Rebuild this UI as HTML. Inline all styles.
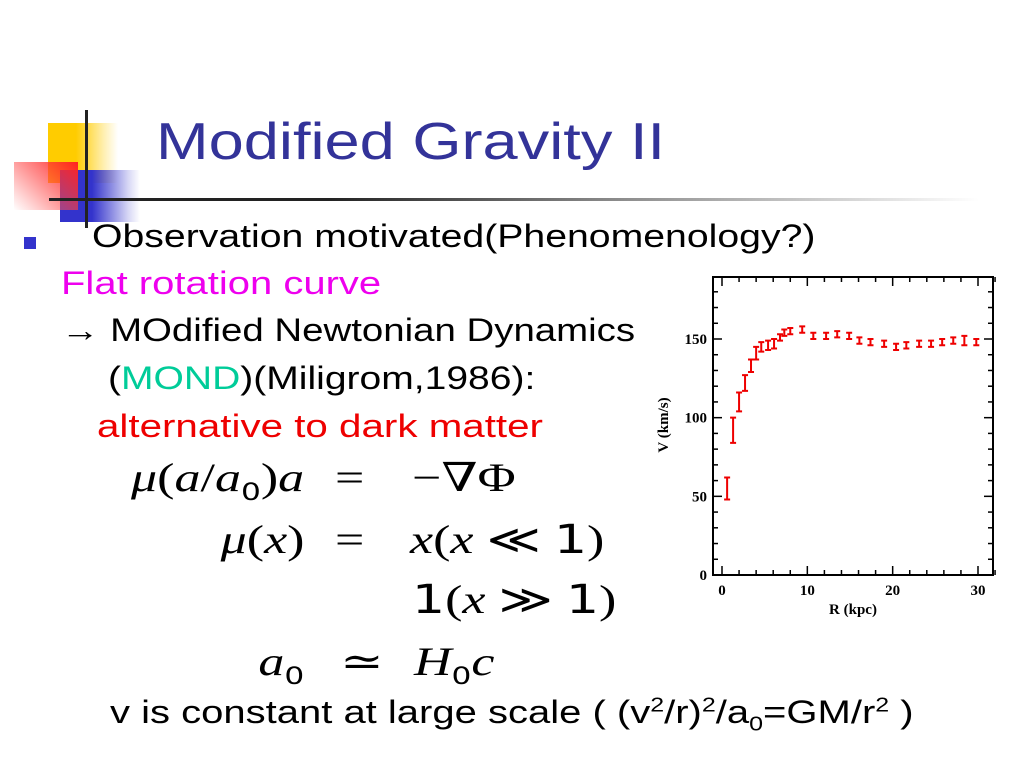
<!DOCTYPE html>
<html><head><meta charset="utf-8">
<style>
body{margin:0;width:1024px;height:768px;background:#fff;position:relative;overflow:hidden;font-family:"Liberation Sans","DejaVu Sans",sans-serif}
.abs{position:absolute;white-space:nowrap}
.sx{transform-origin:0 0}
.m{font-family:"Liberation Serif","DejaVu Serif",serif;font-size:40px;color:#000}
.ml{transform:scaleX(1.3);transform-origin:100% 0}
.mr{transform:scaleX(1.3);transform-origin:0 0}
.i{font-style:italic}
.s{font-family:"DejaVu Sans","Liberation Sans",sans-serif;font-style:normal}
</style></head><body>
<div>
<div class="abs" style="left:48px;top:123px;width:70px;height:60px;background:linear-gradient(90deg,#ffcc00 40%,rgba(255,204,0,0.3) 80%,rgba(255,255,255,0))"></div>
<div class="abs" style="left:60px;top:170px;width:80px;height:52px;background:linear-gradient(90deg,#3333cc 40%,rgba(51,51,204,0.2) 85%,rgba(255,255,255,0))"></div>
<div class="abs" style="left:14px;top:162px;width:64px;height:48px;background:linear-gradient(45deg,rgba(255,255,255,0.2),#ff2222)"></div>
<div class="abs" style="left:85px;top:110px;width:3px;height:118px;background:#222"></div>
<div class="abs" style="left:49px;top:198px;width:930px;height:3px;background:linear-gradient(90deg,#222 30%,#888 60%,rgba(255,255,255,0))"></div>
</div>
<div class="abs sx" style="left:156px;top:112px;font-size:52px;color:#333399;transform:scaleX(1.215)">Modified Gravity II</div>
<div class="abs" style="left:24px;top:237px;width:12px;height:12px;background:#3333cc"></div>
<div class="abs sx" style="left:92px;top:218px;font-size:32px;transform:scaleX(1.225)">Observation motivated(Phenomenology?)</div>
<div class="abs sx" style="left:61px;top:265px;font-size:32px;color:#ee00ee;transform:scaleX(1.25)">Flat rotation curve</div>
<div class="abs sx" style="left:61px;top:312px;font-size:32px;transform:scaleX(1.2)">→ MOdified Newtonian Dynamics</div>
<div class="abs sx" style="left:108px;top:360px;font-size:32px;transform:scaleX(1.22)">(<span style="color:#00cc99">MOND</span>)(Miligrom,1986):</div>
<div class="abs sx" style="left:97px;top:408px;font-size:32px;color:#ee0000;transform:scaleX(1.26)">alternative to dark matter</div>
<div>
<div class="abs m ml" style="right:720px;top:454px"><span class="i">μ</span>(<span class="i">a</span>/<span class="i">a</span><sub class="s" style="font-size:24px">0</sub>)<span class="i">a</span></div>
<div class="abs m mr" style="left:335px;top:454px">=</div>
<div class="abs m mr" style="left:412px;top:454px">−∇Φ</div>
<div class="abs m ml" style="right:720px;top:516px"><span class="i">μ</span>(<span class="i">x</span>)</div>
<div class="abs m mr" style="left:335px;top:516px">=</div>
<div class="abs m mr" style="left:410px;top:516px"><span class="i">x</span>(<span class="i">x</span> ≪ <span class="s">1</span>)</div>
<div class="abs m mr" style="left:412px;top:576px"><span class="s">1</span>(<span class="i">x</span> ≫ <span class="s">1</span>)</div>
<div class="abs m ml" style="right:720px;top:638px"><span class="i">a</span><sub class="s" style="font-size:24px">0</sub></div>
<div class="abs m mr" style="left:340px;top:638px">≃</div>
<div class="abs m mr" style="left:414px;top:638px"><span class="i">H</span><sub class="s" style="font-size:24px">0</sub><span class="i">c</span></div>
</div>
<div class="abs sx" style="left:110px;top:694px;font-size:32px;transform:scaleX(1.25)">v is constant at large scale ( (v<sup style="font-size:20px">2</sup>/r)<sup style="font-size:20px">2</sup>/a<sub style="font-size:20px">0</sub>=GM/r<sup style="font-size:20px">2</sup> )</div>

<svg class="abs" style="left:0;top:0" width="1024" height="768">
<g id="chart"></g>
</svg>
<script>
const radiusKpc=[0.6,1.3,2.0,2.7,3.4,4.0,4.6,5.4,6.1,6.8,7.3,8.0,9.4,10.7,12.2,13.5,14.9,16.1,17.4,19.0,20.4,21.6,23.1,24.5,25.8,27.1,28.4,29.8];
const velocityKms=[55,92,110,122,133,141,145,146,147,151,154,155,156,152,152,153,152,149,148,147,145,146,147,147,148,149,149,148];
const velocityErr=[7,8,6,5,4,4,3,3,3,2,2,2,2,2,2,2,2,2,2,2,2,2,2,2,2,2,3,2];
const xTickLabels=[0,10,20,30];
const yTickLabels=[0,50,100,150];
const L=713,R=993,T=277,B=575;
function sx(v){return 722+v*(978-722)/30;}
function sy(v){return 575-v*(575-339)/150;}
const g=document.getElementById('chart');
const NS='http://www.w3.org/2000/svg';
const FONT='Liberation Serif,serif';
function mk(t,a){const e=document.createElementNS(NS,t);for(const k in a)e.setAttribute(k,a[k]);g.appendChild(e);return e;}
const frame=mk('rect',{x:L,y:T,width:R-L,height:B-T,fill:'none',stroke:'#000','stroke-width':2});


for(let v=0;v<=32;v+=2){const x=sx(v);const len=v%10===0?9:5;
const t1=mk('line',{x1:x,x2:x,y1:B,y2:B-len,stroke:'#000','stroke-width':1.5});


const t2=mk('line',{x1:x,x2:x,y1:T,y2:T+len,stroke:'#000','stroke-width':1.5});

}
for(let v=0;v<=185;v+=10){const y=sy(v);const len=v%50===0?9:5;
const t1=mk('line',{x1:L,x2:L+len,y1:y,y2:y,stroke:'#000','stroke-width':1.5});


const t2=mk('line',{x1:R,x2:R-len,y1:y,y2:y,stroke:'#000','stroke-width':1.5});

}
xTickLabels.forEach(v=>{const t=mk('text',{x:sx(v),y:595,'text-anchor':'middle','font-size':15,'font-weight':'bold','font-family':FONT});t.textContent=v;

});
yTickLabels.forEach(v=>{const t=mk('text',{x:707,y:sy(v)+5,'text-anchor':'end','font-size':15,'font-weight':'bold','font-family':FONT});t.textContent=v;

});
const xt=mk('text',{x:853,y:614,'text-anchor':'middle','font-size':15,'font-weight':'bold','font-family':FONT});xt.textContent='R (kpc)';


const yt=mk('text',{x:0,y:0,'text-anchor':'middle','font-size':15,'font-weight':'bold','font-family':FONT,transform:'translate(668,425) rotate(-90)'});yt.textContent='V (km/s)';


radiusKpc.forEach((r,i)=>{const x=sx(r),y1=sy(velocityKms[i]-velocityErr[i]),y2=sy(velocityKms[i]+velocityErr[i]);
const p=mk('path',{d:`M${x},${y1}V${y2}M${x-3},${y1}H${x+3}M${x-3},${y2}H${x+3}`,stroke:'#e00',fill:'none','stroke-width':2});

});
</script>
</body></html>
